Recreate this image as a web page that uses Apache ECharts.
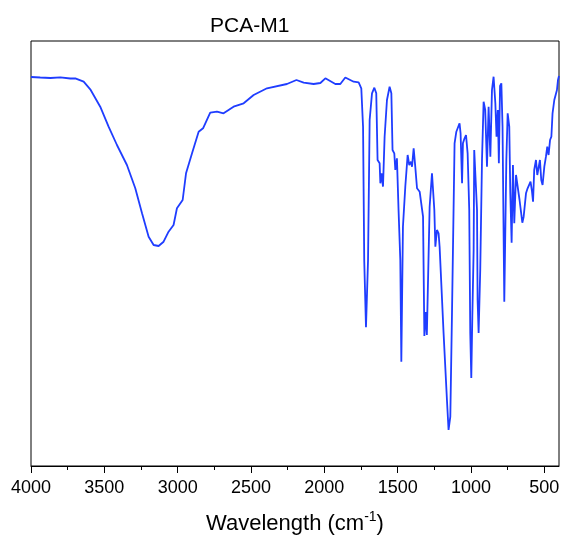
<!DOCTYPE html>
<html>
<head>
<meta charset="utf-8">
<script src="https://cdn.jsdelivr.net/npm/echarts@6/dist/echarts.min.js"></script>
<style>
  html, body { margin: 0; padding: 0; background: #fff; }
  #chart { width: 563px; height: 538px; }
</style>
</head>
<body>
<div id="chart"></div>
<script>
// FTIR spectrum PCA-M1 (y in arbitrary units)
var wavenumber = [4000, 3937, 3868, 3800, 3732, 3698, 3641, 3596, 3528, 3471, 3414, 3346, 3289, 3243, 3198, 3164, 3130, 3096, 3062, 3028,
  3005, 2966, 2943, 2902, 2857, 2827, 2778, 2732, 2687, 2619, 2550, 2482, 2391, 2255, 2190, 2141, 2073, 2027, 1993, 1925,
  1891, 1857, 1800, 1766, 1748, 1736, 1728, 1716, 1702, 1691, 1675, 1659, 1646, 1637, 1623, 1618, 1610, 1600, 1589, 1573,
  1555, 1543, 1535, 1523, 1516, 1505, 1494, 1482, 1475, 1464, 1448, 1432, 1421, 1409, 1402, 1391, 1380, 1368, 1350, 1327,
  1318, 1310, 1301, 1291, 1282, 1266, 1259, 1250, 1243, 1232, 1221, 1214, 1187, 1164, 1153, 1141, 1130, 1112, 1100, 1089,
  1078, 1071, 1061, 1055, 1044, 1034, 1023, 1012, 1005, 998, 991, 982, 978, 971, 959, 955, 948, 937, 925, 914,
  903, 891, 880, 868, 857, 846, 834, 826, 817, 810, 802, 793, 785, 773, 759, 750, 739, 732, 723, 714,
  705, 693, 682, 669, 650, 641, 625, 614, 603, 594, 584, 577, 569, 557, 548, 539, 530, 521, 512, 500,
  489, 480, 471, 461, 452, 444, 432, 423, 414, 407, 400];
var transmittance = [389, 388.5, 388, 388.7, 387.5, 387.7, 384.3, 376.7, 359.3, 339.3, 321, 301, 277.7, 252.7, 229.3, 221, 220, 224.3, 234.3, 241,
  257.7, 266, 292.7, 312.7, 334.3, 337.7, 353.3, 354.3, 352.7, 359.3, 362.7, 371, 377.7, 382, 386, 383.3, 382, 383, 387.7, 382,
  382, 388.5, 384.3, 383.7, 377.7, 339.3, 206, 138.7, 206, 346, 372.7, 378.3, 372.7, 306, 302.7, 282.7, 292.7, 279.3, 329.3, 366,
  379.3, 372.7, 316, 312.7, 296, 307.7, 256, 206, 104.3, 239.3, 279.3, 311, 301, 304.3, 299.3, 317.7, 299.3, 277.7, 274.3, 249.3,
  130, 154, 131, 130, 259.3, 292.7, 294.3, 256, 219.3, 236, 232.7, 219.3, 133, 66, 36, 49.3, 149.3, 322.7, 334.3, 336,
  342.7, 332.7, 282.7, 322.7, 327.7, 331, 312.7, 256, 133, 88, 149.3, 216, 316, 317.7, 256, 166, 133, 196, 306, 364.3,
  356, 299.3, 359.3, 309.3, 376, 389.3, 362.7, 329.3, 356, 302.7, 380, 382.7, 339.3, 164.3, 306, 352.7, 339.3, 272.7, 223.3, 301,
  242.7, 291, 289.3, 266, 243.3, 249.3, 272.7, 277.7, 279.3, 284.3, 274.3, 264.3, 296, 306, 291, 289.3, 306, 286, 281, 299.3,
  309.3, 319.3, 311, 326, 329.3, 352.7, 366, 371, 376, 386, 390];
var majorTicks = [500, 1000, 1500, 2000, 2500, 3000, 3500, 4000];
var minorTicks = [750, 1250, 1750, 2250, 2750, 3250, 3750];

var chart = echarts.init(document.getElementById('chart'), null, { renderer: 'canvas' });

var seriesData = wavenumber.map(function (w, i) {
  return [w, transmittance[i]];
});

var font = '"Liberation Sans", Arial, sans-serif';

var option = {
  backgroundColor: '#fff',
  animation: false,
  title: {
    text: 'PCA-M1',
    left: 205,
    top: 11,
    textStyle: { fontFamily: font, fontSize: 21, fontWeight: 'normal', color: '#000' }
  },
  grid: {
    left: 31,
    right: 4,
    top: 41,
    bottom: 72,
    show: true,
    borderColor: '#000',
    borderWidth: 1,
    containLabel: false,
    outerBoundsMode: 'none'
  },
  xAxis: [
    {
      type: 'value',
      min: 400,
      max: 4000,
      inverse: true,
      position: 'bottom',
      splitLine: { show: false },
      axisLine: { show: true, lineStyle: { color: '#000', width: 1 } },
      axisTick: { show: true, inside: false, length: 7, customValues: majorTicks, lineStyle: { color: '#000' } },
      axisLabel: {
        customValues: majorTicks,
        margin: 13,
        fontFamily: font,
        fontSize: 18,
        color: '#000',
        formatter: function (v) { return String(v); }
      },
      name: 'Wavelength (cm{sup|-1})',
      nameLocation: 'middle',
      nameGap: 44,
      nameTextStyle: {
        fontFamily: font,
        fontSize: 22,
        lineHeight: 28,
        color: '#000',
        rich: {
          sup: { fontFamily: font, fontSize: 14, color: '#000', verticalAlign: 'top', lineHeight: 6 }
        }
      }
    },
    {
      type: 'value',
      min: 400,
      max: 4000,
      inverse: true,
      position: 'bottom',
      splitLine: { show: false },
      axisLine: { show: false },
      axisTick: { show: true, inside: false, length: 4, customValues: minorTicks, lineStyle: { color: '#000' } },
      axisLabel: { show: false }
    }
  ],
  yAxis: {
    type: 'value',
    min: 0,
    max: 425,
    show: false,
    splitLine: { show: false }
  },
  series: [
    {
      type: 'line',
      xAxisIndex: 0,
      data: seriesData,
      showSymbol: false,
      smooth: false,
      lineStyle: { color: '#1f3dff', width: 1.8 }
    }
  ]
};

chart.setOption(option);
</script>
</body>
</html>
